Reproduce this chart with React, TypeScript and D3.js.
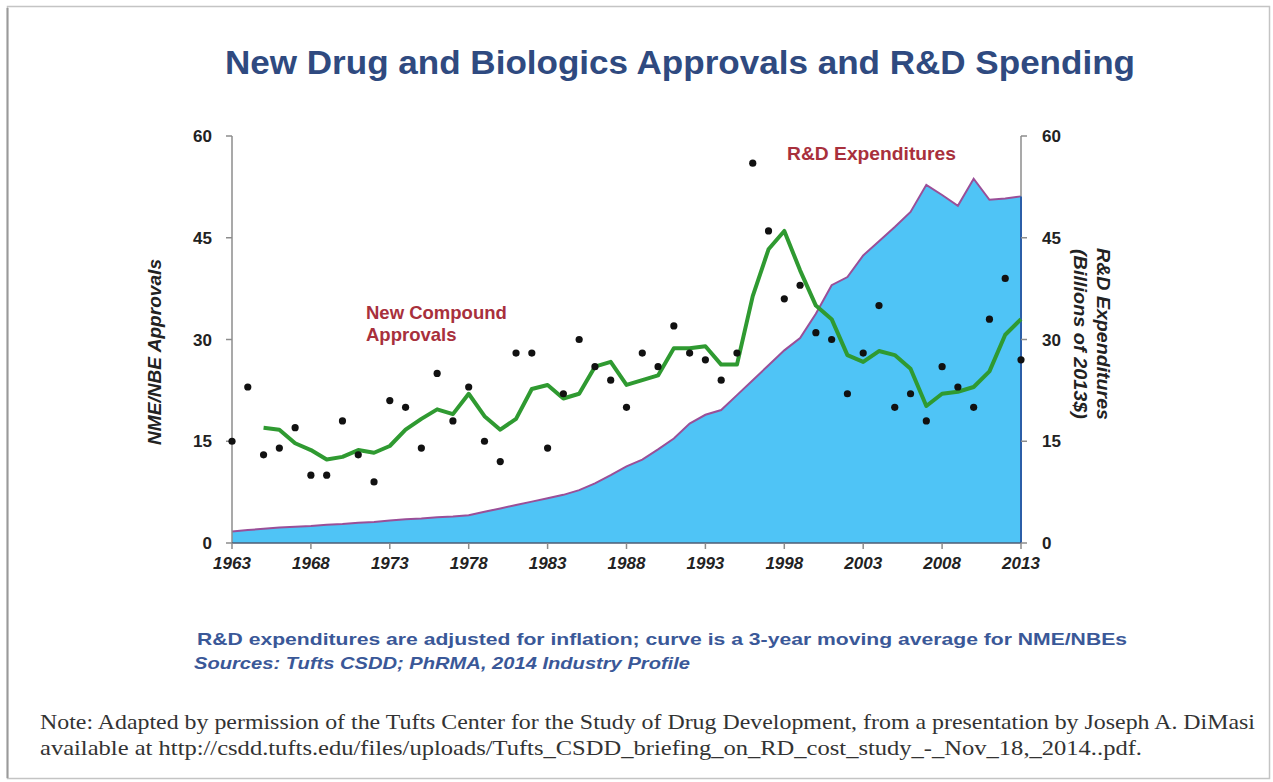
import React from "react";
import * as d3 from "d3";

// NME/NBE approvals per year (dots), 1963-2013
const approvalYears = d3.range(1963, 2014);
const approvals = [
  15, 23, 13, 14, 17, 10, 10, 18, 13, 9,
  21, 20, 14, 25, 18, 23, 15, 12, 28, 28,
  14, 22, 30, 26, 24, 20, 28, 26, 32, 28,
  27, 24, 28, 56, 46, 36, 38, 31, 30, 22,
  28, 35, 20, 22, 18, 26, 23, 20, 33, 39, 27,
];

// 3-year moving average curve, 1965-2013
const avgYears = d3.range(1965, 2014);
const movingAvg = [
  17.0, 16.7, 14.7, 13.7, 12.3, 12.7, 13.7, 13.3, 14.3, 16.7,
  18.3, 19.7, 19.0, 22.0, 18.7, 16.7, 18.3, 22.7, 23.3, 21.3,
  22.0, 26.0, 26.7, 23.3, 24.0, 24.7, 28.7, 28.7, 29.0, 26.3,
  26.3, 36.4, 43.3, 46.0, 40.2, 35.0, 33.0, 27.7, 26.7, 28.3,
  27.7, 25.7, 20.2, 22.0, 22.3, 23.0, 25.3, 30.7, 33.0,
];

// R&D expenditures, billions of 2013$, 1963-2013
const rdSpending = [
  1.7, 1.9, 2.1, 2.3, 2.4, 2.5, 2.7, 2.8, 3.0, 3.1,
  3.3, 3.5, 3.6, 3.8, 3.9, 4.1, 4.6, 5.1, 5.6, 6.1,
  6.6, 7.1, 7.8, 8.8, 10.0, 11.3, 12.3, 13.8, 15.4, 17.6,
  18.9, 19.6, 21.8, 24.0, 26.2, 28.4, 30.2, 33.8, 38.0, 39.2,
  42.4, 44.5, 46.6, 48.8, 52.8, 51.3, 49.7, 53.7, 50.6, 50.8, 51.1,
];

const xTicks = [1963, 1968, 1973, 1978, 1983, 1988, 1993, 1998, 2003, 2008, 2013];
const yTicks = [0, 15, 30, 45, 60];

const W = 1273, H = 782;
const plot = { left: 232, right: 1021, top: 136, bottom: 543 };

export default function App() {
  const x = d3.scaleLinear().domain([1963, 2013]).range([plot.left, plot.right]);
  const y = d3.scaleLinear().domain([0, 60]).range([plot.bottom, plot.top]);
  const yR = d3.scaleLinear().domain([0, 60]).range([plot.bottom, plot.top]);

  const rd = approvalYears.map((yr, i) => ({ yr, v: rdSpending[i] }));
  const area = d3.area<any>().x(d => x(d.yr)).y0(yR(0)).y1(d => yR(d.v));
  const rdLine = d3.line<any>().x(d => x(d.yr)).y(d => yR(d.v));
  const avgLine = d3.line<number>().x((d, i) => x(avgYears[i])).y(d => y(d));

  const sans = "'Liberation Sans', Arial, sans-serif";
  const serif = "'Liberation Serif', 'Times New Roman', serif";
  const lastRd = rdSpending[rdSpending.length - 1];

  return (
    <svg width={W} height={H} style={{ position: "absolute", left: 0, top: 0, background: "#fff" }}>
      {/* card frame */}
      <rect x={7.5} y={6.5} width={1262} height={772} fill="#fff" stroke="#c4c4c4" strokeWidth={1.5} />
      <line x1={7.5} y1={8} x2={7.5} y2={778} stroke="#9a9a9a" strokeWidth={2} />

      <text x={225} y={74} fontFamily={sans} fontWeight={700} fontSize={34} fill="#2f4a80"
        textLength={910} lengthAdjust="spacingAndGlyphs">
        New Drug and Biologics Approvals and R&amp;D Spending
      </text>

      {/* R&D area */}
      <path d={area(rd) || ""} fill="#4fc4f6" />
      <path d={rdLine(rd) || ""} fill="none" stroke="#9a4f98" strokeWidth={2} />
      <line x1={x(2013)} x2={x(2013)} y1={yR(lastRd)} y2={yR(0)} stroke="#2b5ea8" strokeWidth={2} />

      {/* left axis */}
      <line x1={plot.left} x2={plot.left} y1={plot.top} y2={plot.bottom} stroke="#8c8c8c" strokeWidth={1.5} />
      {yTicks.map(t => (
        <g key={"l" + t}>
          <line x1={plot.left - 6} x2={plot.left} y1={y(t)} y2={y(t)} stroke="#8c8c8c" strokeWidth={1.5} />
          <text x={212} y={y(t) + 6} textAnchor="end" fontFamily={sans} fontWeight={700} fontSize={17} fill="#222">{t}</text>
        </g>
      ))}

      {/* right axis */}
      <line x1={plot.right} x2={plot.right} y1={plot.top} y2={yR(lastRd)} stroke="#8c8c8c" strokeWidth={1.5} />
      {yTicks.map(t => (
        <g key={"r" + t}>
          <line x1={plot.right} x2={plot.right + 6} y1={yR(t)} y2={yR(t)} stroke="#8c8c8c" strokeWidth={1.5} />
          <text x={1042} y={yR(t) + 6} fontFamily={sans} fontWeight={700} fontSize={17} fill="#222">{t}</text>
        </g>
      ))}

      {/* bottom axis */}
      <line x1={plot.left} x2={plot.right} y1={plot.bottom} y2={plot.bottom} stroke="#4e5d75" strokeWidth={1.5} />
      {xTicks.map(t => (
        <g key={"x" + t}>
          <line x1={x(t)} x2={x(t)} y1={plot.bottom} y2={plot.bottom + 6} stroke="#8c8c8c" strokeWidth={1.5} />
          <text x={x(t)} y={569} textAnchor="middle" fontFamily={sans} fontWeight={700} fontStyle="italic"
            fontSize={17} fill="#222">{t}</text>
        </g>
      ))}

      {/* moving average */}
      <path d={avgLine(movingAvg) || ""} fill="none" stroke="#2f9a31" strokeWidth={4} strokeLinejoin="round" />

      {/* yearly approvals */}
      {approvals.map((v, i) => (
        <circle key={i} cx={x(approvalYears[i])} cy={y(v)} r={3.6} fill="#111" />
      ))}

      {/* annotations */}
      <text x={366} y={319} fontFamily={sans} fontWeight={700} fontSize={18.5} fill="#a8303c">New Compound</text>
      <text x={366} y={341} fontFamily={sans} fontWeight={700} fontSize={18.5} fill="#a8303c">Approvals</text>
      <text x={787} y={160} fontFamily={sans} fontWeight={700} fontSize={18.5} fill="#a8303c"
        textLength={169} lengthAdjust="spacingAndGlyphs">R&amp;D Expenditures</text>

      {/* axis titles */}
      <text transform="translate(161,352) rotate(-90)" textAnchor="middle" fontFamily={sans} fontWeight={700}
        fontStyle="italic" fontSize={18} fill="#222" textLength={186} lengthAdjust="spacingAndGlyphs">
        NME/NBE Approvals
      </text>
      <text transform="translate(1097,334) rotate(90)" textAnchor="middle" fontFamily={sans} fontWeight={700}
        fontStyle="italic" fontSize={18} fill="#222" textLength={172} lengthAdjust="spacingAndGlyphs">
        R&amp;D Expenditures
      </text>
      <text transform="translate(1074,334) rotate(90)" textAnchor="middle" fontFamily={sans} fontWeight={700}
        fontStyle="italic" fontSize={18} fill="#222" textLength={170} lengthAdjust="spacingAndGlyphs">
        (Billions of 2013$)
      </text>

      {/* source notes */}
      <text x={197} y={645} fontFamily={sans} fontWeight={700} fontSize={17} fill="#3a5898"
        textLength={930} lengthAdjust="spacingAndGlyphs">
        R&amp;D expenditures are adjusted for inflation; curve is a 3-year moving average for NME/NBEs
      </text>
      <text x={194} y={669} fontFamily={sans} fontWeight={700} fontStyle="italic" fontSize={17} fill="#3a5898"
        textLength={496} lengthAdjust="spacingAndGlyphs">
        Sources: Tufts CSDD; PhRMA, 2014 Industry Profile
      </text>

      <text x={40} y={729} fontFamily={serif} fontSize={21} fill="#333"
        textLength={1215} lengthAdjust="spacingAndGlyphs">
        Note: Adapted by permission of the Tufts Center for the Study of Drug Development, from a presentation by Joseph A. DiMasi
      </text>
      <text x={40} y={755} fontFamily={serif} fontSize={21} fill="#333"
        textLength={1102} lengthAdjust="spacingAndGlyphs">
        available at http://csdd.tufts.edu/files/uploads/Tufts_CSDD_briefing_on_RD_cost_study_-_Nov_18,_2014..pdf.
      </text>
    </svg>
  );
}
